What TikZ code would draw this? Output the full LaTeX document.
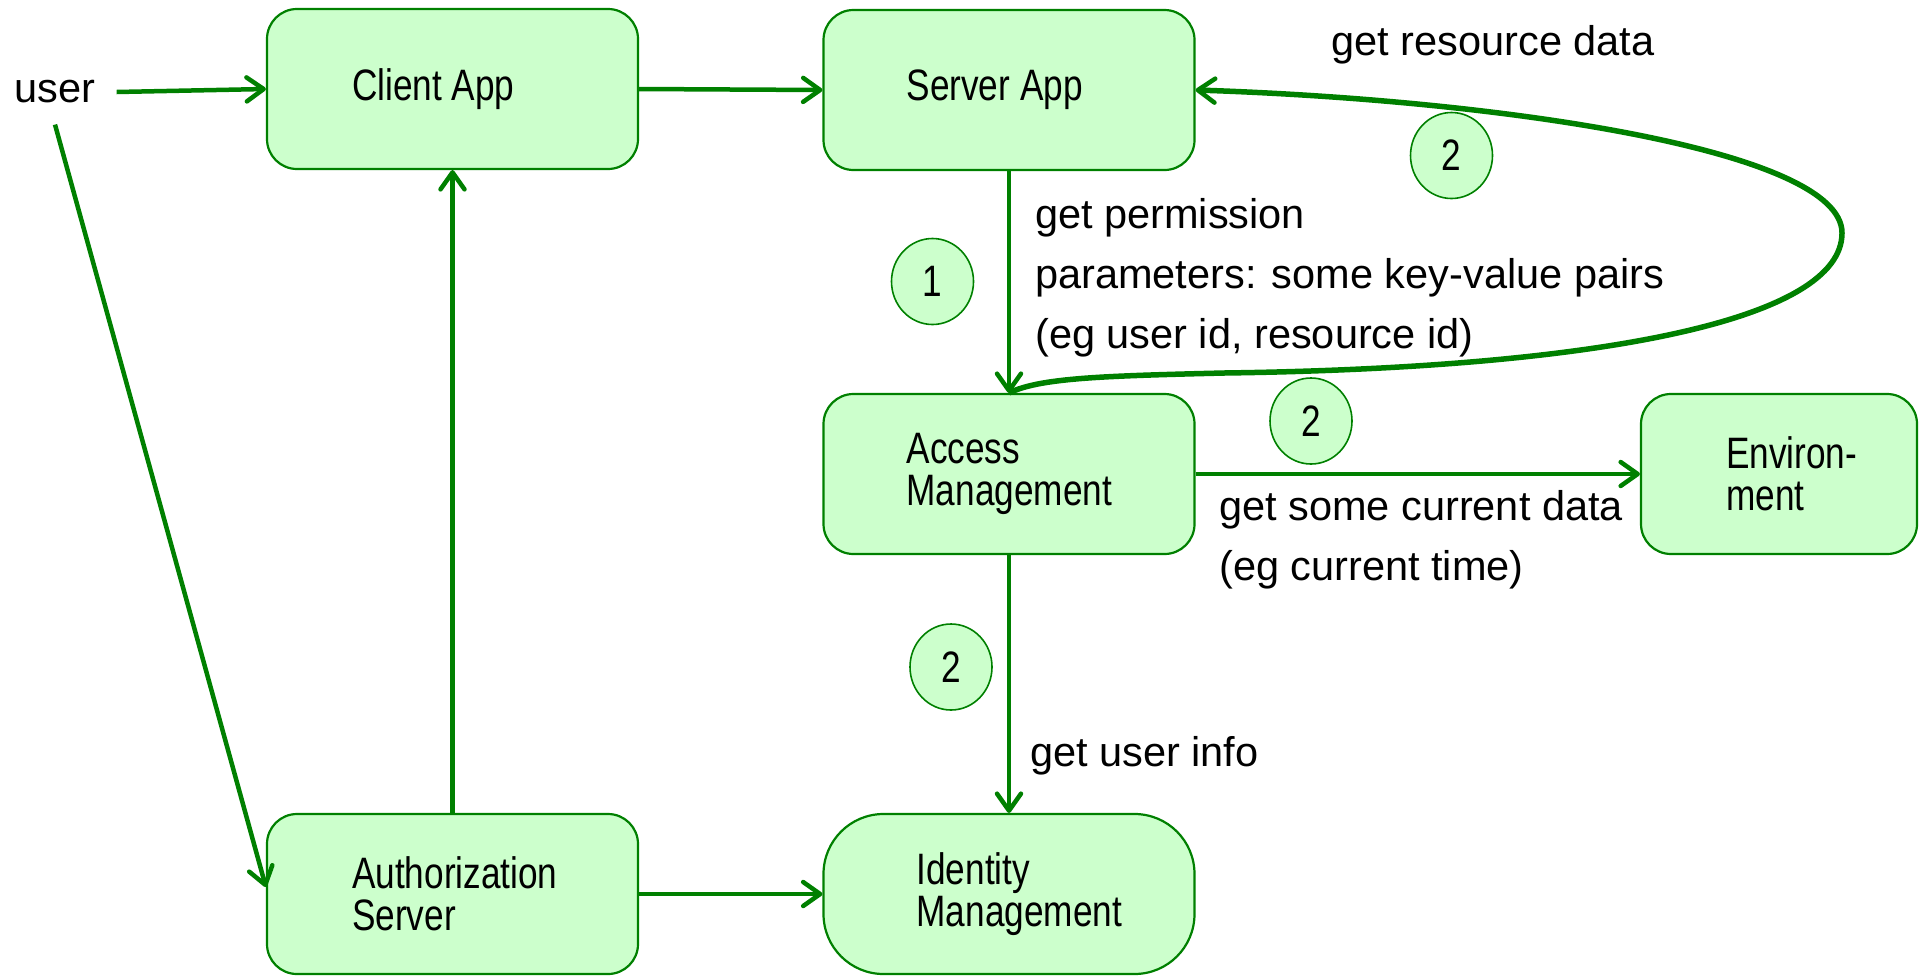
\documentclass[tikz,border=0pt]{standalone}
\usepackage{fontspec}
\setmainfont{Liberation Sans}
\newfontfamily\narrowsans[FakeStretch=0.8]{Liberation Sans}
\usetikzlibrary{arrows.meta,shapes.geometric}
\definecolor{linegreen}{HTML}{008000}
\definecolor{boxfill}{HTML}{CCFFCC}
\begin{document}
\begin{tikzpicture}[x=1pt,y=-1pt,
  box/.style={draw=linegreen, line width=2.2pt, fill=boxfill, rounded corners=30pt,
    minimum width=371pt, minimum height=160pt, inner sep=0pt},
  boxtext/.style={font=\narrowsans\fontsize{44}{41.6}\selectfont, align=left, inner sep=0pt, anchor=west},
  lbl/.style={font=\fontsize{41.5}{60}\selectfont, align=left, inner sep=0pt},
  badge/.style={ellipse, draw=linegreen, line width=1.6pt, fill=boxfill,
    minimum width=82pt, minimum height=86pt, inner sep=0pt,
    font=\narrowsans\fontsize{44}{44}\selectfont},
  conn/.style={draw=linegreen, line width=4.5pt,
    -{Straight Barb[length=17pt,width=24pt,line width=4.5pt,round]}},
]
\useasboundingbox (0,0) rectangle (1919,975);

% boxes
\node[box] (ca) at (452.5,89) {};
\node[box] (sa) at (1009,90) {};
\node[box] (am) at (1009,474) {};
\node[box, minimum width=276pt] (env) at (1779,474) {};
\node[box] (au) at (452.5,894) {};
\node[box, rounded corners=60pt] (im) at (1009,894) {};

% box captions
\node[boxtext] (catext) at ([xshift=86pt]ca.west) {Client App};
\node[boxtext] (satext) at ([xshift=84pt]sa.west) {Server App};
\node[boxtext] (amtext) at ([xshift=84pt]am.west) {Access\\Management};
\node[boxtext] (envtext) at ([xshift=86pt]env.west) {Environ-\\ment};
\node[boxtext] (autext) at ([xshift=86pt]au.west) {Authorization\\Server};
\node[boxtext] (imtext) at ([xshift=94pt]im.west) {Identity\\Management};

% the user
\node[lbl, inner sep=21pt] (user) at (55,92) {user};

% connectors
\draw[conn] (user.east) -- (ca.west);
\draw[conn] (user.south) -- ([yshift=7pt]au.west);
\draw[conn] (ca.east) -- (sa.west);
\draw[conn] (au.north) -- (ca.south);
\draw[conn] (au.east) -- (im.west);
\draw[conn] (sa.south) -- (am.north);
\draw[conn] (am.east) -- (env.west);
\draw[conn] (am.south) -- (im.north);
\draw[conn, line width=5.5pt] (am.north) .. controls (1040,378) and (1100,376) .. (1224,373)
  .. controls (1600,368) and (1842,320) .. (1842,233)
  .. controls (1842,150) and (1500,100) .. (sa.east);

% step numbers
\node[badge] (b1) at (932.5,281.5) {1};
\node[badge] (b2a) at (1451.5,155.5) {2};
\node[badge] (b2b) at (1311,421) {2};
\node[badge] (b2c) at (951,667) {2};

% connector labels
\node[lbl] (lres) at (1493,45) {get resource data};
\node[lbl, anchor=west] (lperm) at (1035,278) {get permission\\parameters: some key-value pairs\\(eg user id, resource id)};
\node[lbl, anchor=west] (lenv) at (1219,540) {get some current data\\(eg current time)};
\node[lbl, anchor=west] (luser) at (1030,756) {get user info};
\end{tikzpicture}
\end{document}
